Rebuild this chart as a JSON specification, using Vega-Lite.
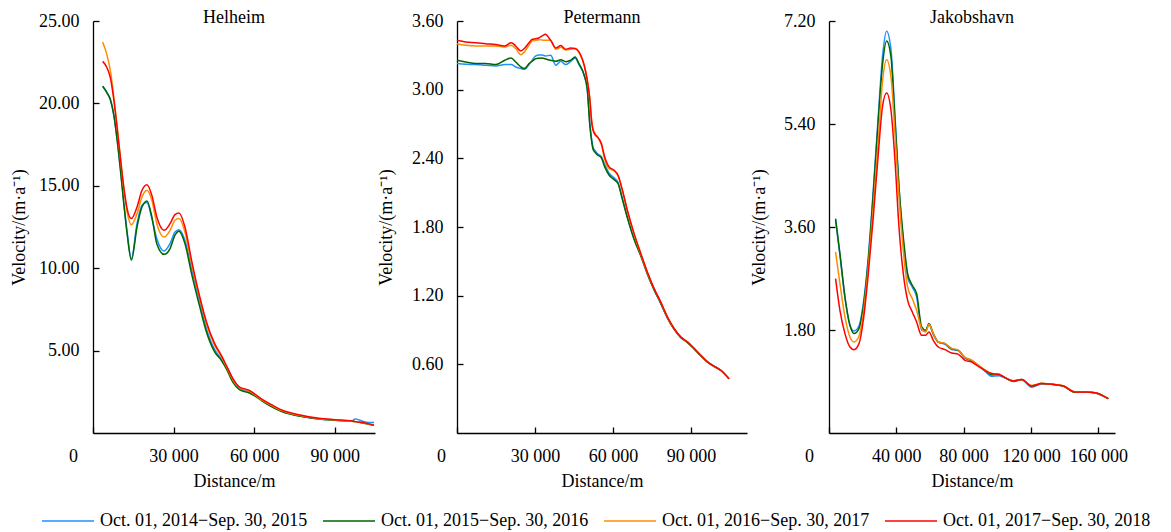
{
  "$schema": "https://vega.github.io/schema/vega-lite/v6.json",
  "background": "white",
  "padding": {"left": 10, "top": 9, "right": 5, "bottom": 2},
  "spacing": 82,
  "bounds": "flush",
  "data": {"values": [
    {"glacier":"Helheim","distance":3600,"2014-2015":21.04,"2015-2016":21.04,"2016-2017":23.73,"2017-2018":22.55},
    {"glacier":"Helheim","distance":5060,"2014-2015":20.69,"2015-2016":20.69,"2016-2017":23.02,"2017-2018":22.21},
    {"glacier":"Helheim","distance":6540,"2014-2015":20.19,"2015-2016":20.19,"2016-2017":21.91,"2017-2018":21.50},
    {"glacier":"Helheim","distance":7770,"2014-2015":19.28,"2015-2016":19.28,"2016-2017":20.39,"2017-2018":20.19},
    {"glacier":"Helheim","distance":9010,"2014-2015":17.80,"2015-2016":17.76,"2016-2017":18.57,"2017-2018":18.47},
    {"glacier":"Helheim","distance":10230,"2014-2015":16.04,"2015-2016":15.94,"2016-2017":16.65,"2017-2018":16.65},
    {"glacier":"Helheim","distance":11460,"2014-2015":14.02,"2015-2016":13.92,"2016-2017":14.83,"2017-2018":14.93},
    {"glacier":"Helheim","distance":12700,"2014-2015":12.20,"2015-2016":12.10,"2016-2017":13.41,"2017-2018":13.62},
    {"glacier":"Helheim","distance":14290,"2014-2015":10.58,"2015-2016":10.48,"2016-2017":12.64,"2017-2018":13.01},
    {"glacier":"Helheim","distance":16390,"2014-2015":12.70,"2015-2016":12.50,"2016-2017":13.31,"2017-2018":13.71},
    {"glacier":"Helheim","distance":18240,"2014-2015":13.82,"2015-2016":13.71,"2016-2017":14.32,"2017-2018":14.73},
    {"glacier":"Helheim","distance":20090,"2014-2015":13.98,"2015-2016":14.08,"2016-2017":14.73,"2017-2018":15.07},
    {"glacier":"Helheim","distance":21920,"2014-2015":13.01,"2015-2016":13.11,"2016-2017":14.12,"2017-2018":14.42},
    {"glacier":"Helheim","distance":23760,"2014-2015":11.79,"2015-2016":11.49,"2016-2017":12.70,"2017-2018":13.11},
    {"glacier":"Helheim","distance":26470,"2014-2015":11.04,"2015-2016":10.84,"2016-2017":11.89,"2017-2018":12.30},
    {"glacier":"Helheim","distance":28690,"2014-2015":11.49,"2015-2016":11.19,"2016-2017":12.30,"2017-2018":12.70},
    {"glacier":"Helheim","distance":30530,"2014-2015":12.20,"2015-2016":12.00,"2016-2017":12.91,"2017-2018":13.25},
    {"glacier":"Helheim","distance":32010,"2014-2015":12.34,"2015-2016":12.24,"2016-2017":13.01,"2017-2018":13.35},
    {"glacier":"Helheim","distance":34230,"2014-2015":11.69,"2015-2016":11.49,"2016-2017":12.20,"2017-2018":12.50},
    {"glacier":"Helheim","distance":36700,"2014-2015":9.97,"2015-2016":9.67,"2016-2017":10.28,"2017-2018":10.48},
    {"glacier":"Helheim","distance":39760,"2014-2015":7.95,"2015-2016":7.65,"2016-2017":8.15,"2017-2018":8.25},
    {"glacier":"Helheim","distance":42240,"2014-2015":6.33,"2015-2016":6.13,"2016-2017":6.64,"2017-2018":6.74},
    {"glacier":"Helheim","distance":45300,"2014-2015":5.06,"2015-2016":4.92,"2016-2017":5.32,"2017-2018":5.42},
    {"glacier":"Helheim","distance":47770,"2014-2015":4.51,"2015-2016":4.41,"2016-2017":4.65,"2017-2018":4.71},
    {"glacier":"Helheim","distance":49620,"2014-2015":4.05,"2015-2016":3.91,"2016-2017":4.05,"2017-2018":4.11},
    {"glacier":"Helheim","distance":52060,"2014-2015":3.30,"2015-2016":3.09,"2016-2017":3.24,"2017-2018":3.30},
    {"glacier":"Helheim","distance":54530,"2014-2015":2.75,"2015-2016":2.63,"2016-2017":2.75,"2017-2018":2.79},
    {"glacier":"Helheim","distance":58220,"2014-2015":2.49,"2015-2016":2.43,"2016-2017":2.55,"2017-2018":2.59},
    {"glacier":"Helheim","distance":60070,"2014-2015":2.33,"2015-2016":2.27,"2016-2017":2.35,"2017-2018":2.39},
    {"glacier":"Helheim","distance":63130,"2014-2015":1.98,"2015-2016":1.92,"2016-2017":1.98,"2017-2018":2.02},
    {"glacier":"Helheim","distance":66230,"2014-2015":1.66,"2015-2016":1.62,"2016-2017":1.70,"2017-2018":1.74},
    {"glacier":"Helheim","distance":70520,"2014-2015":1.30,"2015-2016":1.28,"2016-2017":1.34,"2017-2018":1.38},
    {"glacier":"Helheim","distance":76680,"2014-2015":1.05,"2015-2016":1.03,"2016-2017":1.07,"2017-2018":1.11},
    {"glacier":"Helheim","distance":84070,"2014-2015":0.85,"2015-2016":0.85,"2016-2017":0.87,"2017-2018":0.89},
    {"glacier":"Helheim","distance":90230,"2014-2015":0.79,"2015-2016":0.77,"2016-2017":0.79,"2017-2018":0.81},
    {"glacier":"Helheim","distance":96360,"2014-2015":0.73,"2015-2016":0.71,"2016-2017":0.71,"2017-2018":0.73},
    {"glacier":"Helheim","distance":97620,"2014-2015":0.85,"2015-2016":0.69,"2016-2017":0.69,"2017-2018":0.69},
    {"glacier":"Helheim","distance":101310,"2014-2015":0.67,"2015-2016":0.57,"2016-2017":0.59,"2017-2018":0.61},
    {"glacier":"Helheim","distance":104630,"2014-2015":0.63,"2015-2016":0.47,"2016-2017":0.49,"2017-2018":0.47},

    {"glacier":"Petermann","distance":0,"2014-2015":3.228,"2015-2016":3.257,"2016-2017":3.402,"2017-2018":3.431},
    {"glacier":"Petermann","distance":3300,"2014-2015":3.222,"2015-2016":3.242,"2016-2017":3.388,"2017-2018":3.417},
    {"glacier":"Petermann","distance":7200,"2014-2015":3.219,"2015-2016":3.228,"2016-2017":3.382,"2017-2018":3.411},
    {"glacier":"Petermann","distance":11000,"2014-2015":3.213,"2015-2016":3.228,"2016-2017":3.382,"2017-2018":3.402},
    {"glacier":"Petermann","distance":14900,"2014-2015":3.207,"2015-2016":3.219,"2016-2017":3.382,"2017-2018":3.394},
    {"glacier":"Petermann","distance":18400,"2014-2015":3.219,"2015-2016":3.257,"2016-2017":3.373,"2017-2018":3.382},
    {"glacier":"Petermann","distance":20800,"2014-2015":3.219,"2015-2016":3.277,"2016-2017":3.388,"2017-2018":3.411},
    {"glacier":"Petermann","distance":22600,"2014-2015":3.198,"2015-2016":3.242,"2016-2017":3.359,"2017-2018":3.382},
    {"glacier":"Petermann","distance":24500,"2014-2015":3.185,"2015-2016":3.200,"2016-2017":3.306,"2017-2018":3.338},
    {"glacier":"Petermann","distance":25900,"2014-2015":3.178,"2015-2016":3.184,"2016-2017":3.330,"2017-2018":3.360},
    {"glacier":"Petermann","distance":27700,"2014-2015":3.219,"2015-2016":3.228,"2016-2017":3.390,"2017-2018":3.410},
    {"glacier":"Petermann","distance":29000,"2014-2015":3.260,"2015-2016":3.250,"2016-2017":3.426,"2017-2018":3.440},
    {"glacier":"Petermann","distance":30300,"2014-2015":3.295,"2015-2016":3.271,"2016-2017":3.432,"2017-2018":3.445},
    {"glacier":"Petermann","distance":31500,"2014-2015":3.303,"2015-2016":3.275,"2016-2017":3.437,"2017-2018":3.452},
    {"glacier":"Petermann","distance":32800,"2014-2015":3.303,"2015-2016":3.277,"2016-2017":3.434,"2017-2018":3.470},
    {"glacier":"Petermann","distance":33900,"2014-2015":3.295,"2015-2016":3.270,"2016-2017":3.431,"2017-2018":3.484},
    {"glacier":"Petermann","distance":36000,"2014-2015":3.300,"2015-2016":3.257,"2016-2017":3.431,"2017-2018":3.431},
    {"glacier":"Petermann","distance":38000,"2014-2015":3.213,"2015-2016":3.248,"2016-2017":3.353,"2017-2018":3.364},
    {"glacier":"Petermann","distance":39900,"2014-2015":3.248,"2015-2016":3.262,"2016-2017":3.370,"2017-2018":3.385},
    {"glacier":"Petermann","distance":41800,"2014-2015":3.219,"2015-2016":3.245,"2016-2017":3.347,"2017-2018":3.353},
    {"glacier":"Petermann","distance":43700,"2014-2015":3.248,"2015-2016":3.257,"2016-2017":3.353,"2017-2018":3.364},
    {"glacier":"Petermann","distance":45400,"2014-2015":3.277,"2015-2016":3.286,"2016-2017":3.359,"2017-2018":3.359},
    {"glacier":"Petermann","distance":46900,"2014-2015":3.219,"2015-2016":3.228,"2016-2017":3.324,"2017-2018":3.330},
    {"glacier":"Petermann","distance":48900,"2014-2015":3.126,"2015-2016":3.126,"2016-2017":3.213,"2017-2018":3.213},
    {"glacier":"Petermann","distance":50100,"2014-2015":3.000,"2015-2016":3.000,"2016-2017":3.082,"2017-2018":3.082},
    {"glacier":"Petermann","distance":51100,"2014-2015":2.700,"2015-2016":2.680,"2016-2017":2.920,"2017-2018":2.907},
    {"glacier":"Petermann","distance":51700,"2014-2015":2.580,"2015-2016":2.560,"2016-2017":2.750,"2017-2018":2.732},
    {"glacier":"Petermann","distance":52300,"2014-2015":2.500,"2015-2016":2.480,"2016-2017":2.660,"2017-2018":2.645},
    {"glacier":"Petermann","distance":53300,"2014-2015":2.460,"2015-2016":2.447,"2016-2017":2.610,"2017-2018":2.600},
    {"glacier":"Petermann","distance":54000,"2014-2015":2.440,"2015-2016":2.430,"2016-2017":2.590,"2017-2018":2.587},
    {"glacier":"Petermann","distance":55500,"2014-2015":2.415,"2015-2016":2.405,"2016-2017":2.520,"2017-2018":2.529},
    {"glacier":"Petermann","distance":56800,"2014-2015":2.345,"2015-2016":2.325,"2016-2017":2.390,"2017-2018":2.412},
    {"glacier":"Petermann","distance":58500,"2014-2015":2.270,"2015-2016":2.252,"2016-2017":2.310,"2017-2018":2.325},
    {"glacier":"Petermann","distance":60400,"2014-2015":2.230,"2015-2016":2.214,"2016-2017":2.290,"2017-2018":2.296},
    {"glacier":"Petermann","distance":61900,"2014-2015":2.190,"2015-2016":2.180,"2016-2017":2.250,"2017-2018":2.252},
    {"glacier":"Petermann","distance":63600,"2014-2015":2.050,"2015-2016":2.040,"2016-2017":2.120,"2017-2018":2.121},
    {"glacier":"Petermann","distance":65500,"2014-2015":1.890,"2015-2016":1.880,"2016-2017":1.940,"2017-2018":1.946},
    {"glacier":"Petermann","distance":68100,"2014-2015":1.700,"2015-2016":1.690,"2016-2017":1.735,"2017-2018":1.742},
    {"glacier":"Petermann","distance":70700,"2014-2015":1.550,"2015-2016":1.545,"2016-2017":1.560,"2017-2018":1.567},
    {"glacier":"Petermann","distance":73200,"2014-2015":1.390,"2015-2016":1.390,"2016-2017":1.400,"2017-2018":1.407},
    {"glacier":"Petermann","distance":75800,"2014-2015":1.250,"2015-2016":1.250,"2016-2017":1.260,"2017-2018":1.262},
    {"glacier":"Petermann","distance":78300,"2014-2015":1.135,"2015-2016":1.135,"2016-2017":1.145,"2017-2018":1.146},
    {"glacier":"Petermann","distance":80900,"2014-2015":1.005,"2015-2016":1.005,"2016-2017":1.012,"2017-2018":1.015},
    {"glacier":"Petermann","distance":83500,"2014-2015":0.905,"2015-2016":0.905,"2016-2017":0.910,"2017-2018":0.913},
    {"glacier":"Petermann","distance":86000,"2014-2015":0.835,"2015-2016":0.835,"2016-2017":0.840,"2017-2018":0.840},
    {"glacier":"Petermann","distance":88600,"2014-2015":0.795,"2015-2016":0.790,"2016-2017":0.795,"2017-2018":0.796},
    {"glacier":"Petermann","distance":91200,"2014-2015":0.740,"2015-2016":0.733,"2016-2017":0.738,"2017-2018":0.738},
    {"glacier":"Petermann","distance":93700,"2014-2015":0.680,"2015-2016":0.675,"2016-2017":0.679,"2017-2018":0.679},
    {"glacier":"Petermann","distance":96300,"2014-2015":0.625,"2015-2016":0.620,"2016-2017":0.621,"2017-2018":0.621},
    {"glacier":"Petermann","distance":98900,"2014-2015":0.585,"2015-2016":0.580,"2016-2017":0.583,"2017-2018":0.583},
    {"glacier":"Petermann","distance":101400,"2014-2015":0.548,"2015-2016":0.548,"2016-2017":0.548,"2017-2018":0.548},
    {"glacier":"Petermann","distance":104600,"2014-2015":0.475,"2015-2016":0.475,"2016-2017":0.475,"2017-2018":0.475},

    {"glacier":"Jakobshavn","distance":3900,"2014-2015":3.72,"2015-2016":3.746,"2016-2017":3.164,"2017-2018":2.698},
    {"glacier":"Jakobshavn","distance":6500,"2014-2015":3.11,"2015-2016":3.135,"2016-2017":2.611,"2017-2018":2.144},
    {"glacier":"Jakobshavn","distance":9490,"2014-2015":2.36,"2015-2016":2.377,"2016-2017":2.028,"2017-2018":1.737},
    {"glacier":"Jakobshavn","distance":12460,"2014-2015":1.88,"2015-2016":1.882,"2016-2017":1.678,"2017-2018":1.503},
    {"glacier":"Jakobshavn","distance":14840,"2014-2015":1.783,"2015-2016":1.737,"2016-2017":1.591,"2017-2018":1.457},
    {"glacier":"Jakobshavn","distance":17810,"2014-2015":1.87,"2015-2016":1.824,"2016-2017":1.690,"2017-2018":1.562},
    {"glacier":"Jakobshavn","distance":20390,"2014-2015":2.26,"2015-2016":2.203,"2016-2017":2.087,"2017-2018":1.970},
    {"glacier":"Jakobshavn","distance":23360,"2014-2015":3.08,"2015-2016":3.018,"2016-2017":2.902,"2017-2018":2.786},
    {"glacier":"Jakobshavn","distance":26330,"2014-2015":4.25,"2015-2016":4.184,"2016-2017":3.950,"2017-2018":3.775},
    {"glacier":"Jakobshavn","distance":29300,"2014-2015":5.55,"2015-2016":5.465,"2016-2017":5.115,"2017-2018":4.883},
    {"glacier":"Jakobshavn","distance":31880,"2014-2015":6.60,"2015-2016":6.455,"2016-2017":6.164,"2017-2018":5.727},
    {"glacier":"Jakobshavn","distance":34250,"2014-2015":7.02,"2015-2016":6.851,"2016-2017":6.525,"2017-2018":5.943},
    {"glacier":"Jakobshavn","distance":36840,"2014-2015":6.70,"2015-2016":6.572,"2016-2017":6.222,"2017-2018":5.640},
    {"glacier":"Jakobshavn","distance":39210,"2014-2015":5.55,"2015-2016":5.465,"2016-2017":5.232,"2017-2018":4.766},
    {"glacier":"Jakobshavn","distance":41590,"2014-2015":4.30,"2015-2016":4.299,"2016-2017":4.125,"2017-2018":3.601},
    {"glacier":"Jakobshavn","distance":44160,"2014-2015":3.35,"2015-2016":3.426,"2016-2017":3.193,"2017-2018":2.786},
    {"glacier":"Jakobshavn","distance":46740,"2014-2015":2.72,"2015-2016":2.786,"2016-2017":2.552,"2017-2018":2.319},
    {"glacier":"Jakobshavn","distance":49510,"2014-2015":2.55,"2015-2016":2.581,"2016-2017":2.349,"2017-2018":2.115},
    {"glacier":"Jakobshavn","distance":52090,"2014-2015":2.38,"2015-2016":2.436,"2016-2017":2.144,"2017-2018":1.940},
    {"glacier":"Jakobshavn","distance":55060,"2014-2015":1.80,"2015-2016":1.853,"2016-2017":1.824,"2017-2018":1.707},
    {"glacier":"Jakobshavn","distance":57440,"2014-2015":1.78,"2015-2016":1.795,"2016-2017":1.766,"2017-2018":1.707},
    {"glacier":"Jakobshavn","distance":59420,"2014-2015":1.90,"2015-2016":1.912,"2016-2017":1.900,"2017-2018":1.766},
    {"glacier":"Jakobshavn","distance":62000,"2014-2015":1.72,"2015-2016":1.737,"2016-2017":1.737,"2017-2018":1.620},
    {"glacier":"Jakobshavn","distance":64970,"2014-2015":1.59,"2015-2016":1.591,"2016-2017":1.591,"2017-2018":1.503},
    {"glacier":"Jakobshavn","distance":68930,"2014-2015":1.55,"2015-2016":1.562,"2016-2017":1.562,"2017-2018":1.457},
    {"glacier":"Jakobshavn","distance":72890,"2014-2015":1.46,"2015-2016":1.474,"2016-2017":1.480,"2017-2018":1.399},
    {"glacier":"Jakobshavn","distance":76860,"2014-2015":1.44,"2015-2016":1.445,"2016-2017":1.450,"2017-2018":1.375},
    {"glacier":"Jakobshavn","distance":80820,"2014-2015":1.31,"2015-2016":1.317,"2016-2017":1.320,"2017-2018":1.270},
    {"glacier":"Jakobshavn","distance":84780,"2014-2015":1.26,"2015-2016":1.270,"2016-2017":1.275,"2017-2018":1.241},
    {"glacier":"Jakobshavn","distance":88740,"2014-2015":1.18,"2015-2016":1.183,"2016-2017":1.185,"2017-2018":1.166},
    {"glacier":"Jakobshavn","distance":92710,"2014-2015":1.08,"2015-2016":1.096,"2016-2017":1.100,"2017-2018":1.096},
    {"glacier":"Jakobshavn","distance":96670,"2014-2015":0.99,"2015-2016":1.020,"2016-2017":1.040,"2017-2018":1.038},
    {"glacier":"Jakobshavn","distance":100630,"2014-2015":1.00,"2015-2016":1.026,"2016-2017":1.030,"2017-2018":1.026},
    {"glacier":"Jakobshavn","distance":104600,"2014-2015":0.96,"2015-2016":0.968,"2016-2017":0.970,"2017-2018":0.968},
    {"glacier":"Jakobshavn","distance":109550,"2014-2015":0.91,"2015-2016":0.900,"2016-2017":0.915,"2017-2018":0.909},
    {"glacier":"Jakobshavn","distance":114500,"2014-2015":0.93,"2015-2016":0.933,"2016-2017":0.935,"2017-2018":0.933},
    {"glacier":"Jakobshavn","distance":120440,"2014-2015":0.80,"2015-2016":0.822,"2016-2017":0.830,"2017-2018":0.822},
    {"glacier":"Jakobshavn","distance":126390,"2014-2015":0.86,"2015-2016":0.863,"2016-2017":0.870,"2017-2018":0.863},
    {"glacier":"Jakobshavn","distance":132330,"2014-2015":0.85,"2015-2016":0.851,"2016-2017":0.852,"2017-2018":0.851},
    {"glacier":"Jakobshavn","distance":139270,"2014-2015":0.82,"2015-2016":0.822,"2016-2017":0.825,"2017-2018":0.822},
    {"glacier":"Jakobshavn","distance":146210,"2014-2015":0.72,"2015-2016":0.710,"2016-2017":0.720,"2017-2018":0.717},
    {"glacier":"Jakobshavn","distance":152150,"2014-2015":0.72,"2015-2016":0.717,"2016-2017":0.720,"2017-2018":0.717},
    {"glacier":"Jakobshavn","distance":158090,"2014-2015":0.70,"2015-2016":0.705,"2016-2017":0.705,"2017-2018":0.705},
    {"glacier":"Jakobshavn","distance":166020,"2014-2015":0.60,"2015-2016":0.601,"2016-2017":0.600,"2017-2018":0.601}
  ]},
  "hconcat": [
    {
      "width": 282, "height": 412,
      "title": {"text": "Helheim"},
      "transform": [
        {"filter": "datum.glacier === 'Helheim'"},
        {"fold": ["2014-2015", "2015-2016", "2016-2017", "2017-2018"], "as": ["period", "velocity"]}
      ],
      "mark": {"type": "line", "interpolate": "monotone", "strokeWidth": 1.5},
      "encoding": {
        "x": {"field": "distance", "type": "quantitative",
              "scale": {"domain": [0, 105000], "nice": false},
              "axis": {"title": "Distance/m", "values": [0, 30000, 60000, 90000],
                       "labelOffset": {"condition": {"test": "datum.value === 0", "value": -20}, "value": 0}}},
        "y": {"field": "velocity", "type": "quantitative",
              "scale": {"domain": [0, 25], "nice": false},
              "axis": {"title": "Velocity/(m·a⁻¹)", "values": [5, 10, 15, 20, 25], "format": ".2f", "titlePadding": 10}},
        "color": {"field": "period", "type": "nominal"}
      }
    },
    {
      "width": 290, "height": 412,
      "title": {"text": "Petermann"},
      "transform": [
        {"filter": "datum.glacier === 'Petermann'"},
        {"fold": ["2014-2015", "2015-2016", "2016-2017", "2017-2018"], "as": ["period", "velocity"]}
      ],
      "mark": {"type": "line", "interpolate": "monotone", "strokeWidth": 1.5},
      "encoding": {
        "x": {"field": "distance", "type": "quantitative",
              "scale": {"domain": [0, 111500], "nice": false},
              "axis": {"title": "Distance/m", "values": [0, 30000, 60000, 90000],
                       "labelOffset": {"condition": {"test": "datum.value === 0", "value": -16}, "value": 0}}},
        "y": {"field": "velocity", "type": "quantitative",
              "scale": {"domain": [0, 3.6], "nice": false},
              "axis": {"title": "Velocity/(m·a⁻¹)", "values": [0.6, 1.2, 1.8, 2.4, 3.0, 3.6], "format": ".2f", "titlePadding": 16}},
        "color": {"field": "period", "type": "nominal"}
      }
    },
    {
      "width": 286, "height": 412,
      "title": {"text": "Jakobshavn"},
      "transform": [
        {"filter": "datum.glacier === 'Jakobshavn'"},
        {"fold": ["2014-2015", "2015-2016", "2016-2017", "2017-2018"], "as": ["period", "velocity"]}
      ],
      "mark": {"type": "line", "interpolate": "monotone", "strokeWidth": 1.5},
      "encoding": {
        "x": {"field": "distance", "type": "quantitative",
              "scale": {"domain": [0, 170000], "nice": false},
              "axis": {"title": "Distance/m", "values": [0, 40000, 80000, 120000, 160000],
                       "labelOffset": {"condition": {"test": "datum.value === 0", "value": -20}, "value": 0}}},
        "y": {"field": "velocity", "type": "quantitative",
              "scale": {"domain": [0, 7.2], "nice": false},
              "axis": {"title": "Velocity/(m·a⁻¹)", "values": [1.8, 3.6, 5.4, 7.2], "format": ".2f", "titlePadding": 15}},
        "color": {"field": "period", "type": "nominal",
                  "scale": {"domain": ["2014-2015", "2015-2016", "2016-2017", "2017-2018"],
                            "range": ["#1E90FF", "#006400", "#FF8C00", "#FF0000"]},
                  "legend": {"title": null, "orient": "none", "legendX": -52, "legendY": 473,
                             "direction": "horizontal",
                             "labelExpr": "'Oct. 01, ' + substring(datum.label, 0, 4) + '−Sep. 30, ' + substring(datum.label, 5, 9)"}}
      }
    }
  ],
  "config": {
    "view": {"stroke": null},
    "font": "Liberation Serif",
    "title": {"font": "Liberation Serif", "fontSize": 18, "fontWeight": "normal", "color": "black", "offset": -15, "frame": "group", "anchor": "middle"},
    "axis": {
      "grid": false,
      "domainColor": "black", "domainWidth": 1.3,
      "tickColor": "black", "tickWidth": 1.3, "tickSize": -6,
      "labelFont": "Liberation Serif", "labelFontSize": 18, "labelColor": "black", "labelPadding": 20,
      "labelFlush": false, "labelOverlap": false, "labelBound": false,
      "labelExpr": "replace(datum.label, ',', ' ')",
      "titleFont": "Liberation Serif", "titleFontSize": 18, "titleFontWeight": "normal", "titleColor": "black"
    },
    "axisX": {"titlePadding": 7},
    "legend": {
      "symbolType": "stroke", "symbolSize": 2704, "symbolStrokeWidth": 1.5,
      "labelFont": "Liberation Serif", "labelFontSize": 18, "labelColor": "black", "labelLimit": 400,
      "labelOffset": 5, "columnPadding": 12, "padding": 0
    }
  }
}
